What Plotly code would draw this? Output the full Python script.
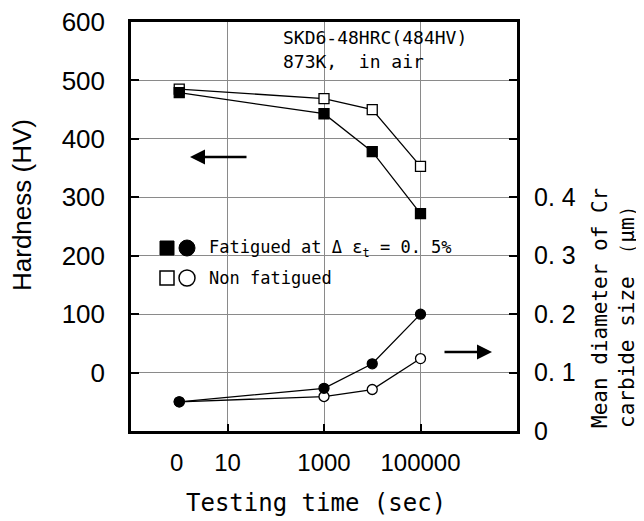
import plotly.graph_objects as go

# ---------------- data ----------------
time_sec = [1, 1000, 10000, 100000]          # "0" plotted at 1 on the log axis
hv_fatigued = [479, 443, 378, 272]
hv_non_fatigued = [485, 469, 450, 353]
cr_fatigued = [0.050, 0.073, 0.115, 0.200]
cr_non_fatigued = [0.050, 0.059, 0.071, 0.124]

x_tickvals = [10, 1000, 100000]
x_ticktext = ["10", "1000", "100000"]
y_tickvals = [0, 100, 200, 300, 400, 500, 600]
y2_tickvals = [0, 0.1, 0.2, 0.3, 0.4, 0.5, 0.6]
y2_ticktext = ["0", "0. 1", "0. 2", "0. 3", "0. 4", "", ""]

# ---------------- layout helpers (screen pixels of the plot box) ----------------
L, R, T, B = 131, 517, 22, 431
W, H = 644, 521
OFF = 8   # default page body margin
def px(x):
    return (x - L) / (R - L)
def py(y):
    return (B - y) / (B - T)

MONO = "DejaVu Sans Mono"
SANS = "Liberation Sans, Arial"

fig = go.Figure()

line_style = dict(color="black", width=1.3)
fig.add_trace(go.Scatter(x=time_sec, y=hv_non_fatigued, mode="lines+markers",
                         line=line_style,
                         marker=dict(symbol="square", size=10, color="white",
                                     line=dict(color="black", width=1.3)),
                         showlegend=False))
fig.add_trace(go.Scatter(x=time_sec, y=hv_fatigued, mode="lines+markers",
                         line=line_style,
                         marker=dict(symbol="square", size=10, color="black",
                                     line=dict(color="black", width=1.3)),
                         showlegend=False))
fig.add_trace(go.Scatter(x=time_sec, y=cr_non_fatigued, mode="lines+markers",
                         line=line_style, yaxis="y2",
                         marker=dict(symbol="circle", size=10, color="white",
                                     line=dict(color="black", width=1.3)),
                         showlegend=False))
fig.add_trace(go.Scatter(x=time_sec, y=cr_fatigued, mode="lines+markers",
                         line=line_style, yaxis="y2",
                         marker=dict(symbol="circle", size=10, color="black",
                                     line=dict(color="black", width=1.3)),
                         showlegend=False))

fig.update_layout(
    template="none",
    width=W, height=H,
    margin=dict(l=L - OFF, r=W - R + OFF, t=T - OFF, b=H - B + OFF, pad=0),
    paper_bgcolor="white", plot_bgcolor="white",
    xaxis=dict(type="log", range=[-1, 7], tickvals=x_tickvals, ticktext=x_ticktext,
               ticks="inside", ticklen=7, tickwidth=2, tickcolor="black",
               showgrid=True, gridcolor="#8a8a8a", gridwidth=1,
               showline=True, linecolor="black", linewidth=2.5, mirror=True,
               zeroline=False, automargin=False, ticklabelstandoff=8,
               ticklabeloverflow="allow",
               tickfont=dict(family=SANS, size=24, color="black")),
    yaxis=dict(range=[-100, 600], tickvals=y_tickvals,
               ticks="inside", ticklen=8, tickwidth=2, tickcolor="black",
               showgrid=True, gridcolor="#8a8a8a", gridwidth=1,
               showline=True, linecolor="black", linewidth=2.5, mirror=True,
               zeroline=False, automargin=False, ticklabelstandoff=18,
               ticklabeloverflow="allow",
               tickfont=dict(family=SANS, size=26, color="black")),
    yaxis2=dict(range=[0, 0.7], overlaying="y", side="right",
                tickvals=y2_tickvals, ticktext=y2_ticktext,
                ticks="inside", ticklen=8, tickwidth=2, tickcolor="black",
                showgrid=False, zeroline=False, showline=False,
                automargin=False, ticklabelstandoff=16,
                ticklabeloverflow="allow",
                tickfont=dict(family=SANS, size=25, color="black")),
)

# white box behind the legend text (hides grid lines)
fig.add_shape(type="rect", xref="paper", yref="paper",
              x0=px(133), x1=px(483), y0=py(297), y1=py(233),
              fillcolor="white", line=dict(width=0), layer="between")
# legend symbols
fig.add_shape(type="rect", xref="paper", yref="paper",
              x0=px(160), x1=px(174), y0=py(255), y1=py(241),
              fillcolor="black", line=dict(color="black", width=1))
fig.add_shape(type="circle", xref="paper", yref="paper",
              x0=px(179), x1=px(195), y0=py(256), y1=py(240),
              fillcolor="black", line=dict(color="black", width=1))
fig.add_shape(type="rect", xref="paper", yref="paper",
              x0=px(160), x1=px(174), y0=py(285), y1=py(271),
              fillcolor="white", line=dict(color="black", width=1.5))
fig.add_shape(type="circle", xref="paper", yref="paper",
              x0=px(179), x1=px(195), y0=py(286), y1=py(270),
              fillcolor="white", line=dict(color="black", width=1.5))

ann = []
# "0" tick label
ann.append(dict(x=px(176), y=py(463), text="0", showarrow=False,
                font=dict(family=SANS, size=24, color="black")))
# axis titles
ann.append(dict(x=px(22), y=py(205), text="Hardness (HV)", textangle=-90,
                showarrow=False, font=dict(family=SANS, size=26, color="black")))
ann.append(dict(x=px(316), y=py(503), text="Testing time (sec)", showarrow=False,
                font=dict(family=MONO, size=24, color="black")))
ann.append(dict(x=px(600), y=py(430), yanchor="bottom", text="Mean diameter of Cr",
                textangle=-90, showarrow=False,
                font=dict(family=MONO, size=21, color="black")))
ann.append(dict(x=px(627), y=py(430), yanchor="bottom", text="carbide size （μm）",
                textangle=-90, showarrow=False,
                font=dict(family=MONO, size=21, color="black")))
# condition text
ann.append(dict(x=px(281), y=py(37), xanchor="left", text="SKD6-48HRC(484HV)",
                showarrow=False, font=dict(family=MONO, size=18, color="black")))
ann.append(dict(x=px(281), y=py(61), xanchor="left", text="873K,  in air",
                showarrow=False, font=dict(family=MONO, size=18, color="black")))
# legend text
ann.append(dict(x=px(207), y=py(248), xanchor="left",
                text="Fatigued at Δ ε<sub>t</sub> = 0. 5%",
                showarrow=False, font=dict(family=MONO, size=17, color="black")))
ann.append(dict(x=px(207), y=py(278), xanchor="left",
                text="Non fatigued",
                showarrow=False, font=dict(family=MONO, size=17, color="black")))
# arrows
ann.append(dict(x=px(190), y=py(157), ax=58, ay=0, text="", showarrow=True,
                arrowhead=2, arrowsize=1.2, arrowwidth=2.5, arrowcolor="black"))
ann.append(dict(x=px(492), y=py(352), ax=-49, ay=0, text="", showarrow=True,
                arrowhead=2, arrowsize=1.2, arrowwidth=2.5, arrowcolor="black"))

for a in ann:
    a.setdefault("xref", "paper")
    a.setdefault("yref", "paper")
    a.setdefault("xanchor", "center")
    a.setdefault("yanchor", "middle")
fig.update_layout(annotations=ann)

fig.write_html("out.html")
